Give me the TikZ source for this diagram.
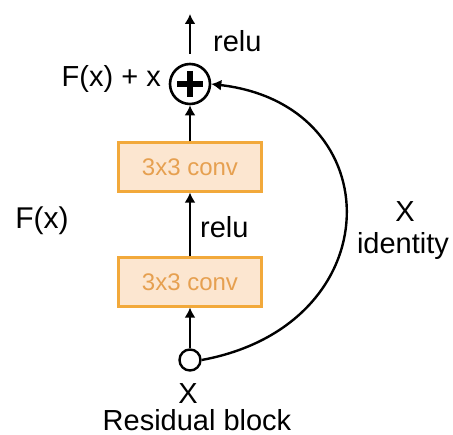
\documentclass[tikz,border=0pt]{standalone}
\usepackage{fontspec}
\setmainfont{Liberation Sans}
\usetikzlibrary{arrows.meta}
\definecolor{boxfill}{HTML}{FCE6D0}
\definecolor{boxline}{HTML}{F2A93B}
\definecolor{boxtext}{HTML}{E6A050}
\tikzset{
  conv/.style={draw=boxline, fill=boxfill, line width=2.2pt, minimum width=143pt, minimum height=49pt, inner sep=0pt, text=boxtext, font=\fontsize{24}{26}\selectfont},
  lbl/.style={inner sep=0pt, font=\fontsize{29}{31}\selectfont},
  arr/.style={line width=2pt, -{Latex[length=10pt,width=11pt]}},
  sumnode/.style={circle, draw, line width=2.6pt, minimum size=40pt, inner sep=0pt},
  innode/.style={circle, draw, line width=2.4pt, minimum size=21pt, inner sep=0pt, fill=white},
}
\begin{document}
\begin{tikzpicture}[x=1pt, y=-1pt]
\useasboundingbox (0,0) rectangle (453,435);
\node[sumnode] (plus) at (190,84) {};
\draw[line width=6pt] (177,84) -- (203,84) (190,71) -- (190,97);
\coordinate (top) at (190,14);
\draw[arr] ([yshift=9pt]plus.north) -- (top);
\node[lbl, anchor=west] (relutop) at (213,41) {relu};
\node[lbl, anchor=east] (fxx) at (161,79) {F(x) + x};
\node[conv] (c1) at (190,167) {3x3 conv};
\node[conv] (c2) at (190,282) {3x3 conv};
\node[lbl, anchor=west] (relumid) at (200,227) {relu};
\node[innode] (in) at (190,360) {};
\node[lbl] (xb) at (188,394) {X};
\node[lbl] (rb) at (197,420) {Residual block};
\node[lbl, font=\fontsize{30}{32}\selectfont] (fx) at (42,221) {F(x)};
\node[lbl] (xr) at (405,212) {X};
\node[lbl] (id) at (403,246) {identity};
\draw[arr] (in) -- (c2);
\draw[arr] (c2) -- (c1);
\draw[arr] (c1) -- (plus);
\draw[arr, line width=2.4pt] (in.east) .. controls (392,325) and (392,105) .. (plus.east);
\end{tikzpicture}
\end{document}
